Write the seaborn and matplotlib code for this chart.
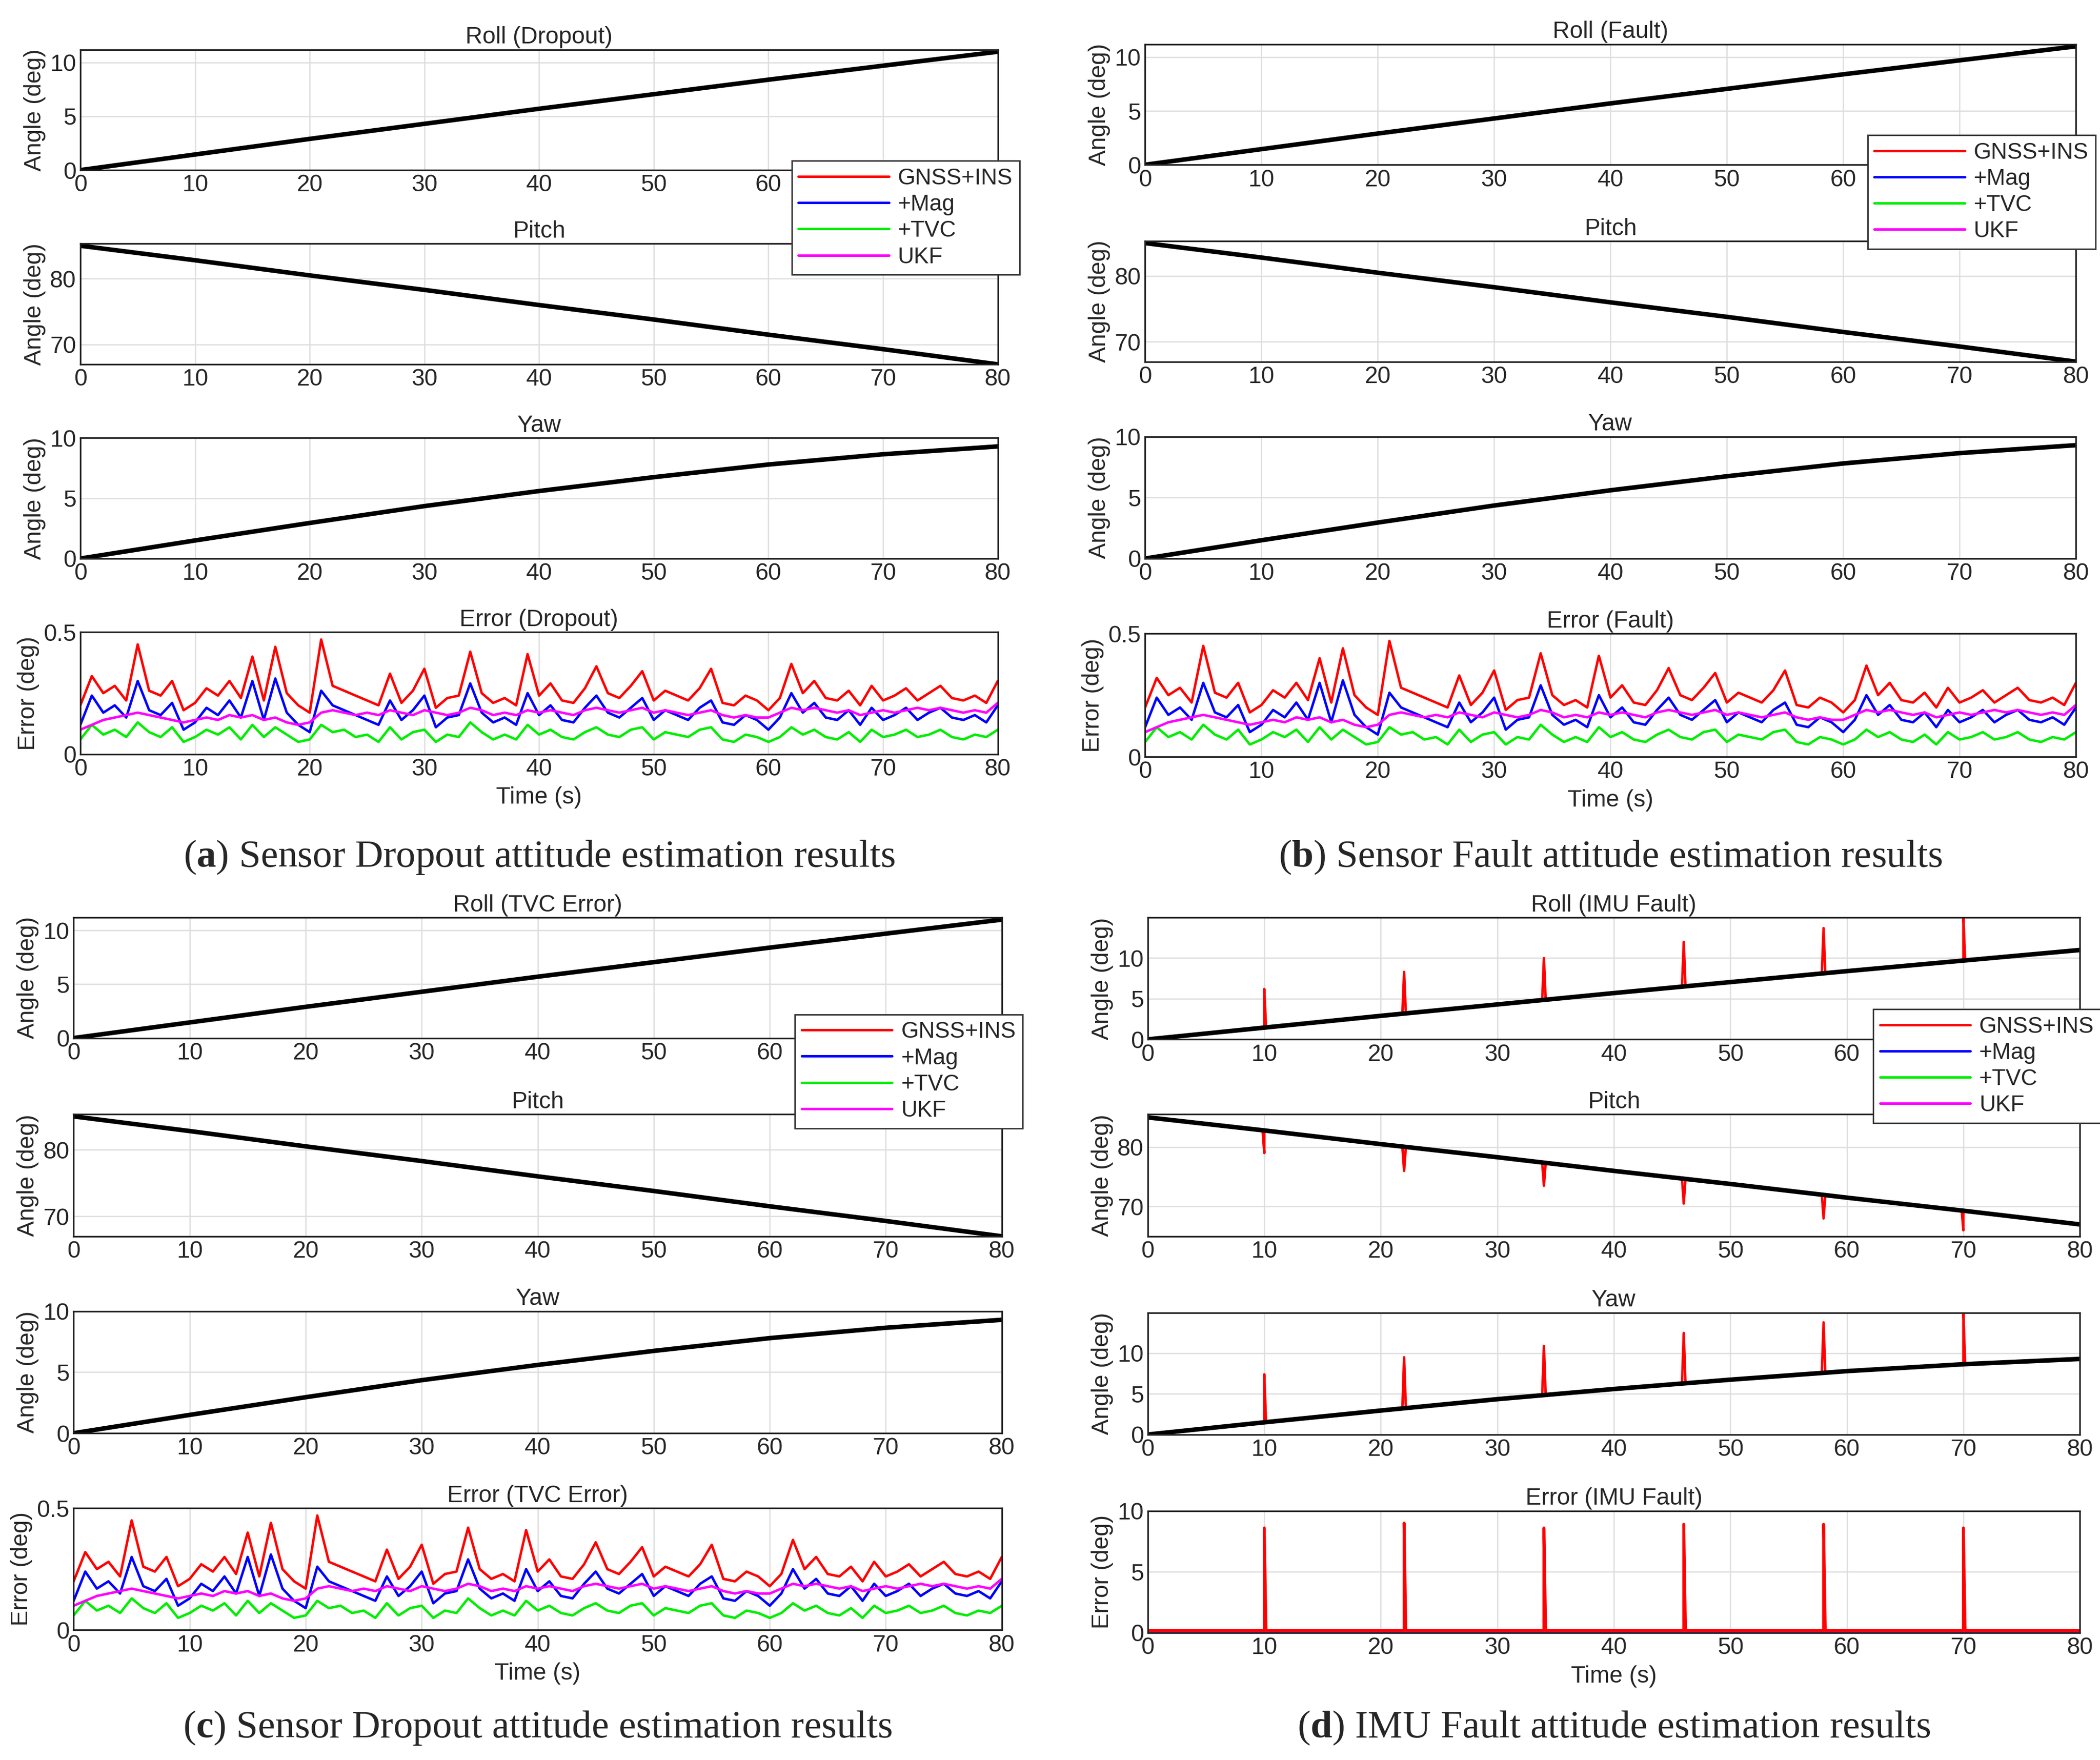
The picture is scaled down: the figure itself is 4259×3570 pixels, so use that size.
import numpy as np
import pandas as pd
import matplotlib
matplotlib.use("Agg")
import matplotlib.pyplot as plt
import seaborn as sns

sns.set_theme(style="whitegrid")
plt.rcParams['font.family'] = ['Liberation Sans', 'DejaVu Sans']
plt.rcParams['mathtext.fontset'] = 'custom'
plt.rcParams['mathtext.bf'] = 'Liberation Serif:bold'
plt.rcParams['mathtext.rm'] = 'Liberation Serif'

# ---------------- data ----------------
t_truth = [0, 10, 20, 30, 40, 50, 60, 70, 80]
roll_truth = [0.0, 1.45, 2.9, 4.3, 5.7, 7.05, 8.4, 9.7, 11.0]
pitch_truth = [85.0, 82.8, 80.5, 78.3, 76.0, 73.8, 71.5, 69.3, 67.0]
yaw_truth = [0.0, 1.5, 2.95, 4.35, 5.6, 6.75, 7.8, 8.65, 9.3]

t_err = list(range(81))
err_gnss = [0.20,0.32,0.25,0.28,0.22,0.45,0.26,0.24,0.30,0.18,0.21,0.27,0.24,0.30,0.23,0.40,0.22,0.44,0.25,0.20,
            0.17,0.47,0.28,0.26,0.24,0.22,0.20,0.33,0.21,0.26,0.35,0.19,0.23,0.24,0.42,0.25,0.21,0.23,0.20,0.41,
            0.24,0.29,0.22,0.21,0.27,0.36,0.25,0.23,0.28,0.34,0.22,0.26,0.24,0.22,0.27,0.35,0.21,0.20,0.24,0.22,
            0.18,0.23,0.37,0.25,0.30,0.23,0.22,0.26,0.20,0.28,0.22,0.24,0.27,0.22,0.25,0.28,0.23,0.22,0.24,0.21,0.30]
err_mag = [0.12,0.24,0.17,0.20,0.15,0.30,0.18,0.16,0.21,0.10,0.13,0.19,0.16,0.22,0.15,0.30,0.14,0.31,0.17,0.12,
           0.09,0.26,0.20,0.18,0.16,0.14,0.12,0.22,0.14,0.18,0.24,0.11,0.15,0.16,0.29,0.17,0.13,0.15,0.12,0.25,
           0.16,0.20,0.14,0.13,0.19,0.24,0.17,0.15,0.19,0.23,0.14,0.18,0.16,0.14,0.19,0.22,0.13,0.12,0.16,0.14,
           0.10,0.15,0.25,0.17,0.21,0.15,0.14,0.18,0.12,0.19,0.14,0.16,0.19,0.14,0.17,0.19,0.15,0.14,0.16,0.13,0.20]
err_tvc = [0.06,0.12,0.08,0.10,0.07,0.13,0.09,0.07,0.11,0.05,0.07,0.10,0.08,0.11,0.06,0.12,0.07,0.11,0.08,0.05,
           0.06,0.12,0.09,0.10,0.07,0.08,0.05,0.11,0.06,0.09,0.10,0.05,0.08,0.07,0.13,0.09,0.06,0.08,0.06,0.12,
           0.08,0.10,0.07,0.06,0.09,0.11,0.08,0.07,0.10,0.11,0.06,0.09,0.08,0.07,0.10,0.11,0.06,0.05,0.08,0.07,
           0.05,0.07,0.11,0.08,0.10,0.07,0.06,0.09,0.05,0.10,0.07,0.08,0.10,0.07,0.08,0.10,0.07,0.06,0.08,0.07,0.10]
err_ukf = [0.10,0.12,0.14,0.15,0.16,0.17,0.16,0.15,0.14,0.13,0.14,0.15,0.14,0.16,0.15,0.16,0.14,0.15,0.13,0.12,
           0.13,0.17,0.18,0.17,0.16,0.17,0.16,0.18,0.17,0.16,0.18,0.17,0.16,0.17,0.19,0.18,0.16,0.17,0.16,0.18,
           0.17,0.18,0.17,0.16,0.18,0.19,0.18,0.17,0.18,0.19,0.17,0.18,0.17,0.16,0.17,0.18,0.16,0.15,0.16,0.15,
           0.15,0.17,0.19,0.18,0.19,0.18,0.17,0.18,0.16,0.17,0.18,0.17,0.18,0.19,0.18,0.19,0.18,0.17,0.18,0.17,0.21]

# IMU fault spikes
spike_t = [10, 22, 34, 46, 58, 70]
spike_roll = [6.2, 8.3, 10.0, 12.0, 13.7, 15.0]
spike_pitch = [79.0, 76.0, 73.5, 70.5, 68.0, 66.0]
spike_yaw = [7.4, 9.5, 10.9, 12.5, 13.8, 15.0]
spike_err = [8.6, 9.0, 8.6, 8.9, 8.9, 8.6]
imu_base_err = 0.2

series_names = ["GNSS+INS", "+Mag", "+TVC", "UKF"]
series_colors = ["#ff0000", "#0000ff", "#00ee00", "#ff00ff"]
captions = [("a", "Sensor Dropout attitude estimation results"),
            ("b", "Sensor Fault attitude estimation results"),
            ("c", "Sensor Dropout attitude estimation results"),
            ("d", "IMU Fault attitude estimation results")]
scen = ["Dropout", "Fault", "TVC Error", "IMU Fault"]

W, H = 1568.0, 1314.0
fig = plt.figure(figsize=(4259/300, 3570/300), dpi=300)

panels = [
    dict(l=60, r=745, ys=[(37,127),(182,272),(327,417),(472,563)], cap=640, leg=(0.763,0.17)),
    dict(l=855, r=1550, ys=[(33,123),(180,270),(326,417),(473,565)], cap=640, leg=(0.764,0.34)),
    dict(l=55, r=748, ys=[(685,775),(832,923),(979,1070),(1126,1217)], cap=1290, leg=(0.765,0.29)),
    dict(l=857, r=1553, ys=[(685,776),(832,923),(980,1071),(1128,1219)], cap=1290, leg=(0.766,0.34)),
]

fs = 11.5
def style(ax, ylim, yticks, ylabels=None):
    ax.set_xlim(0, 80)
    ax.set_ylim(*ylim)
    ax.set_xticks(range(0, 81, 10))
    ax.set_yticks(yticks)
    if ylabels is not None:
        ax.set_yticklabels(ylabels)
    ax.tick_params(labelsize=fs, pad=2, length=3, direction='in')
    ax.grid(True, color='#dddddd', lw=0.6)
    for s in ax.spines.values():
        s.set_color('#222222'); s.set_linewidth(0.8)
    ax.set_facecolor('white')

def spiked(t, base, st, sp):
    bt = np.array(t, float); bv = np.array(base, float)
    pts = sorted(list(zip(bt, bv)) + [(s - 0.15, np.interp(s - 0.15, bt, bv)) for s in st]
                 + [(s, p) for s, p in zip(st, sp)]
                 + [(s + 0.15, np.interp(s + 0.15, bt, bv)) for s in st])
    return [p[0] for p in pts], [p[1] for p in pts]

def line(ax, x, y, c, lw):
    sns.lineplot(x=x, y=y, ax=ax, color=c, lw=lw, legend=False, sort=False, estimator=None)

for pi, P in enumerate(panels):
    x0 = P['l']/W; w = (P['r']-P['l'])/W
    axes = []
    for (yt, yb) in P['ys']:
        axes.append(fig.add_axes([x0, 1-yb/H, w, (yb-yt)/H]))
    axes[0].set_zorder(5)
    imu = pi == 3
    truths = [roll_truth, pitch_truth, yaw_truth]
    spikes = [spike_roll, spike_pitch, spike_yaw]
    titles = [f"Roll ({scen[pi]})", "Pitch", "Yaw"]
    if imu:
        lims = [((0, 15), [0, 5, 10]), ((65, 85.5), [70, 80]), ((0, 15), [0, 5, 10])]
    else:
        lims = [((0, 11.2), [0, 5, 10]), ((67, 85.3), [70, 80]), ((0, 10), [0, 5, 10])]
    for k in range(3):
        ax = axes[k]
        for si, c in enumerate(series_colors):
            if imu and si == 0:
                tx, vy = spiked(t_truth, truths[k], spike_t, spikes[k])
            else:
                tx, vy = t_truth, truths[k]
            line(ax, tx, vy, c, 1.2)
        line(ax, t_truth, truths[k], 'black', 2.2)
        style(ax, *lims[k])
        ax.set_title(titles[k], fontsize=fs, pad=3)
        ax.set_ylabel("Angle (deg)", fontsize=fs, labelpad=2)
        if k == 0:
            hs = ax.get_lines()[:4]
            leg = ax.legend(hs, series_names, loc='upper left', bbox_to_anchor=P['leg'],
                            fontsize=11, handlelength=4.0, handletextpad=0.4, frameon=True,
                            fancybox=False, borderpad=0.3, labelspacing=0.2,
                            framealpha=1)
            leg.get_frame().set_edgecolor('#333333'); leg.get_frame().set_linewidth(0.7)
            leg.set_zorder(10)
    ax = axes[3]
    if imu:
        tx, vy = spiked(t_err, [imu_base_err]*81, spike_t, spike_err)
        line(ax, [0, 80], [0.12, 0.12], series_colors[3], 1.0)
        line(ax, tx, vy, series_colors[0], 1.4)
        style(ax, (0, 10), [0, 5, 10])
    else:
        for e, c in zip([err_gnss, err_mag, err_tvc, err_ukf], series_colors):
            line(ax, t_err, e, c, 1.2)
        style(ax, (0, 0.5), [0, 0.5], ["0", "0.5"])
    ax.set_title(f"Error ({scen[pi]})", fontsize=fs, pad=3)
    ax.set_ylabel("Error (deg)", fontsize=fs, labelpad=2)
    ax.set_xlabel("Time (s)", fontsize=fs, labelpad=3)
    fig.text(x0 + w/2, 1 - P['cap']/H, rf"($\mathbf{{{captions[pi][0]}}}$) {captions[pi][1]}",
             ha='center', va='center', fontsize=19, family=['Liberation Serif', 'DejaVu Serif'])

fig.savefig("out.png", dpi=300, facecolor='white')
